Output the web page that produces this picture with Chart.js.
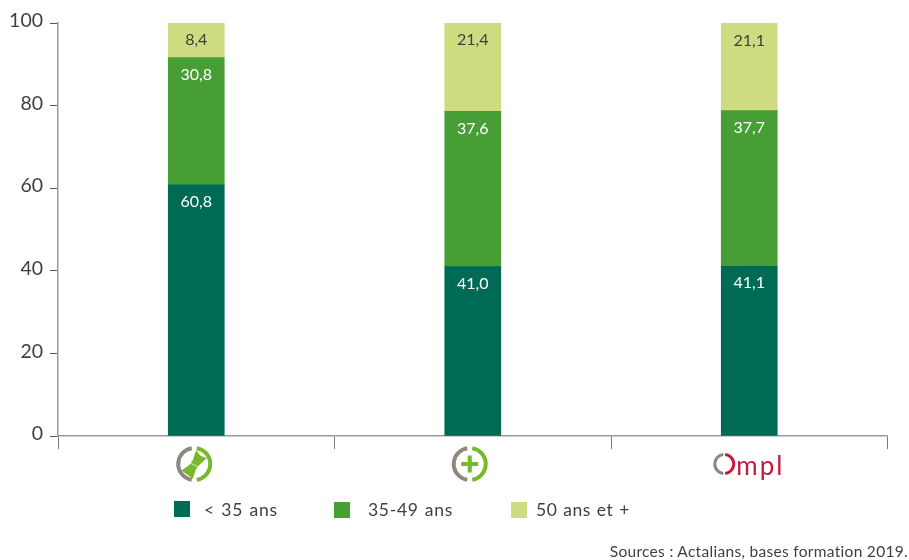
<!DOCTYPE html>
<html lang="fr">
<head>
<meta charset="utf-8">
<title>Répartition par âge</title>
<script src="https://cdn.jsdelivr.net/npm/chart.js@4"></script>
<style>
    html, body { margin: 0; padding: 0; background: #fff; }
    #wrap { position: relative; width: 909px; height: 560px; overflow: hidden; font-family: Lato, sans-serif; color: #3f3f3f; }
    canvas { position: absolute; left: 0; top: 0; }
    .swatch { position: absolute; width: 16px; height: 16px; }
    .key { position: absolute; font-size: 17.5px; letter-spacing: 0.5px; word-spacing: 1px; line-height: 20px; white-space: nowrap; }
    #source { position: absolute; right: 1px; top: 542px; font-size: 15.5px; letter-spacing: 0.3px; line-height: 18px; white-space: nowrap; }
</style>
</head>
<body>
<div id="wrap">
    <canvas id="chart" width="909" height="560"></canvas>
    <div class="swatch" style="left:174px;top:501px;background:#006b54"></div>
    <div class="key" style="left:204px;top:500px;letter-spacing:0.8px">&lt; 35 ans</div>
    <div class="swatch" style="left:334px;top:502px;background:#469e35"></div>
    <div class="key" style="left:368px;top:500px;letter-spacing:0.7px">35-49 ans</div>
    <div class="swatch" style="left:511px;top:502px;background:#cfdb80"></div>
    <div class="key" style="left:536px;top:500px">50 ans et +</div>
    <div id="source">Sources : Actalians, bases formation 2019.</div>
</div>
<script>
const categories = ['Actalians', 'Santé', 'OMPL']
const under35 = [60.8, 41.0, 41.1]
const from35to49 = [30.8, 37.6, 37.7]
const over50 = [8.4, 21.4, 21.1]
const yTicks = [0, 20, 40, 60, 80, 100]

const GREY = '#8f8680'
const LEAF = '#76b82a'
const RED = '#c8193c'

// Grey left arc and coloured right arc, shared by every logo
function ring(ctx, x, y, r, width, right, gap = 0.05) {
    ctx.lineWidth = width
    ctx.strokeStyle = GREY
    ctx.beginPath()
    ctx.arc(x, y, r, Math.PI * (0.5 + gap), Math.PI * (1.5 - gap))
    ctx.stroke()
    ctx.strokeStyle = right
    ctx.beginPath()
    ctx.arc(x, y, r, -Math.PI * (0.5 - gap), Math.PI * (0.5 - gap))
    ctx.stroke()
}

function drawTools(ctx, x, y) {
    const cx = x - 2
    ring(ctx, cx, y, 16, 4, LEAF)
    ctx.save()
    ctx.translate(cx, y + 1)
    ctx.rotate(-Math.PI * 0.3)
    ctx.fillStyle = LEAF
    ctx.beginPath()
    ctx.moveTo(-12, -7)
    ctx.lineTo(-3, -4)
    ctx.lineTo(3, -4)
    ctx.lineTo(13, -7)
    ctx.lineTo(11, 0)
    ctx.lineTo(13, 6)
    ctx.lineTo(3, 4)
    ctx.lineTo(-3, 4)
    ctx.lineTo(-12, 7)
    ctx.closePath()
    ctx.fill()
    ctx.strokeStyle = 'rgba(255,255,255,0.8)'
    ctx.lineWidth = 0.8
    ctx.beginPath()
    ctx.moveTo(-1, -5)
    ctx.lineTo(1, 5)
    ctx.stroke()
    ctx.restore()
}

function drawPlus(ctx, x, y) {
    const cx = x - 3
    ring(ctx, cx, y, 16, 4, LEAF)
    ctx.fillStyle = LEAF
    ctx.fillRect(cx - 8.5, y - 2, 17, 4)
    ctx.fillRect(cx - 2, y - 8.5, 4, 17)
}

function drawOmpl(ctx, x, y) {
    const cx = x - 25
    ring(ctx, cx, y, 9.5, 3, RED, 0.03)
    ctx.fillStyle = RED
    ctx.font = '400 26px Lato'
    ctx.letterSpacing = '2px'
    ctx.textAlign = 'left'
    ctx.textBaseline = 'alphabetic'
    ctx.fillText('mpl', cx + 12, y + 11)
    ctx.letterSpacing = '0px'
}

const logos = [drawTools, drawPlus, drawOmpl]

const logoPlugin = {
    id: 'logos',
    afterDraw(chart) {
        const scale = chart.scales.x
        const ctx = chart.ctx
        ctx.save()
        logos.forEach((draw, i) => draw(ctx, scale.getPixelForValue(i), chart.chartArea.bottom + 28))
        ctx.restore()
    },
}

// Value printed a fixed distance under the top of each segment
const segmentLabels = {
    id: 'segmentLabels',
    afterDatasetsDraw(chart) {
        const ctx = chart.ctx
        ctx.save()
        ctx.font = '16px Lato'
        ctx.textAlign = 'center'
        ctx.textBaseline = 'middle'
        chart.data.datasets.forEach((dataset, d) => {
            chart.getDatasetMeta(d).data.forEach((bar, i) => {
                ctx.fillStyle = dataset.labelColor
                ctx.fillText(dataset.data[i].toFixed(1).replace('.', ','), bar.x, bar.y + 17)
            })
        })
        ctx.restore()
    },
}

new Chart(document.getElementById('chart'), {
    type: 'bar',
    data: {
        labels: categories,
        datasets: [
            { label: '< 35 ans', data: under35, backgroundColor: '#006b54', labelColor: '#ffffff' },
            { label: '35-49 ans', data: from35to49, backgroundColor: '#469e35', labelColor: '#ffffff' },
            { label: '50 ans et +', data: over50, backgroundColor: '#cfdb80', labelColor: '#3f3f3f' },
        ],
    },
    options: {
        responsive: false,
        animation: false,
        layout: { padding: { top: 23, right: 21.5 } },
        datasets: { bar: { barThickness: 56 } },
        plugins: { legend: { display: false }, tooltip: { enabled: false } },
        scales: {
            x: {
                stacked: true,
                border: { color: '#999999', width: 1.5 },
                grid: { drawOnChartArea: false, color: '#777777', tickLength: 13, offset: true },
                ticks: { display: false },
                afterFit(scale) { scale.height = 124 },
            },
            y: {
                stacked: true,
                min: 0,
                max: 100,
                border: { color: '#999999', width: 1.5 },
                grid: { drawOnChartArea: false, color: '#555555', tickLength: 8 },
                afterBuildTicks(scale) { scale.ticks = yTicks.map(value => ({ value })) },
                ticks: {
                    color: '#3f3f3f',
                    font: { family: 'Lato', size: 19.5, lineHeight: '4px' },
                    padding: 7,
                    // the empty second line lifts each label 2px above its tick
                    callback: value => [String(value), ''],
                },
                afterFit(scale) { scale.width = 58 },
            },
        },
    },
    plugins: [segmentLabels, logoPlugin],
})
</script>
</body>
</html>
